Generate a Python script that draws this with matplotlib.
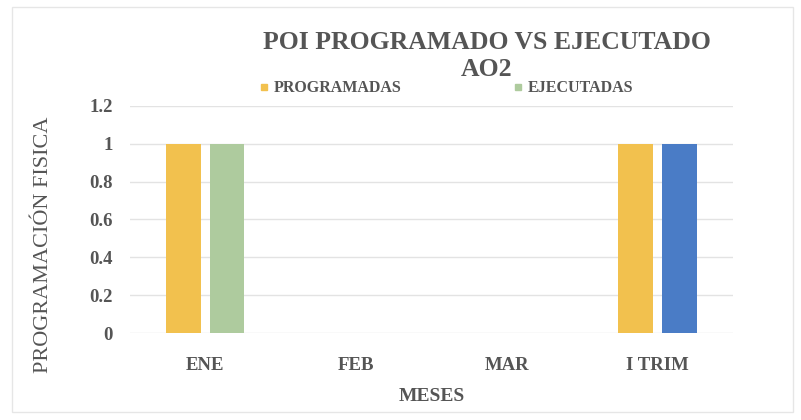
import numpy as np
import matplotlib.pyplot as plt
from matplotlib.patches import Rectangle
from matplotlib.lines import Line2D

# Datos del POI
meses = ["ENE", "FEB", "MAR", "I TRIM"]
programadas = [1, 0, 0, 1]
ejecutadas = [1, 0, 0, 1]

col_prog = "#F2C14E"
col_ejec = ["#AECB9E", "#AECB9E", "#AECB9E", "#4A7CC6"]
col_texto = "#555555"

plt.rcParams["font.family"] = ["Liberation Serif", "DejaVu Serif"]
plt.rcParams["font.weight"] = "bold"

fig = plt.figure(figsize=(8.01, 4.2), dpi=100)
ax = fig.add_axes([0.162, 0.207, 0.753, 0.541])

x = np.arange(len(meses))
ancho = 0.23
ax.bar(x - 0.145, programadas, ancho, color=col_prog, zorder=2)
ax.bar(x + 0.145, ejecutadas, ancho, color=col_ejec, zorder=2)

ax.set_xlim(-0.5, 3.5)
ax.set_ylim(0, 1.2)
ax.set_yticks([0, 0.2, 0.4, 0.6, 0.8, 1, 1.2])
ax.set_yticklabels(["0", "0.2", "0.4", "0.6", "0.8", "1", "1.2"])
ax.set_xticks(x)
ax.set_xticklabels(meses)
ax.tick_params(axis="both", length=0, labelsize=13.5, colors=col_texto)
ax.tick_params(axis="x", pad=17)
ax.tick_params(axis="y", pad=12)
ax.grid(axis="y", color="#E3E3E3", linewidth=1, zorder=0)
for s in ax.spines.values():
    s.set_visible(False)

ax.set_xlabel("MESES", fontsize=14, color=col_texto, fontweight="bold", labelpad=10)
ax.set_ylabel("PROGRAMACIÓN FISICA", fontsize=16, color=col_texto,
              fontweight="normal")
ax.yaxis.set_label_coords(-0.128, 0.39)

fig.text(0.608, 0.866, "POI PROGRAMADO VS EJECUTADO\nAO2", ha="center",
         va="center", fontsize=18.5, color=col_texto, linespacing=1.2)

handles = [Line2D([], [], marker="s", linestyle="", color=col_prog, markersize=5),
           Line2D([], [], marker="s", linestyle="", color=col_ejec[0], markersize=5)]
fig.legend(handles, ["PROGRAMADAS", "EJECUTADAS"], loc="center",
           bbox_to_anchor=(0.556, 0.79), ncol=2, frameon=False, fontsize=11.5,
           handlelength=0.8, handletextpad=0.2, columnspacing=6.95,
           labelcolor=col_texto)

# Marco del gráfico
fig.patches.append(Rectangle((0.015, 0.02), 0.975, 0.963, transform=fig.transFigure,
                             fill=False, edgecolor="#E6E6E6", linewidth=1))

fig.savefig("out.png", dpi=100)
